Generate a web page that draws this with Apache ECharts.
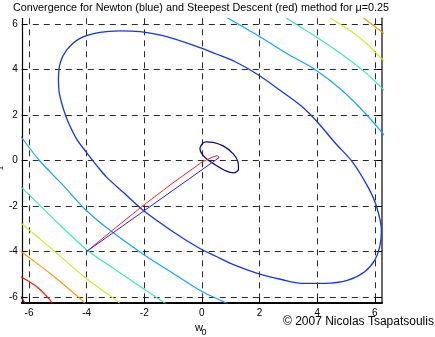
<!DOCTYPE html>
<html>
<head>
<meta charset="utf-8">
<script src="https://cdn.jsdelivr.net/npm/echarts@6/dist/echarts.min.js"></script>
<style>
  html, body { margin: 0; padding: 0; background: #ffffff; }
  #chart { width: 435px; height: 337px; }
</style>
</head>
<body>
<div id="chart"></div>
<script>
// Axis ticks (both axes share the same range and tick set)
const tickValues = [-6, -4, -2, 0, 2, 4, 6];
const axisMin = -6.25;
const axisMax = 6.25;

// Level curves of the error surface J(w0, w1), one array per drawn curve piece
const levelInner = [
  [-0.07, 0.55], [0.02, 0.75], [0.15, 0.82], [0.39, 0.80], [0.74, 0.64], [1.08, 0.30],
  [1.25, -0.05], [1.27, -0.38], [1.12, -0.54], [0.85, -0.47], [0.45, -0.18], [0.12, 0.12],
  [-0.04, 0.38], [-0.07, 0.55]
];
const levelSecond = [
  [-4.98, 3.60], [-4.92, 4.28], [-4.69, 4.86], [-4.23, 5.37], [-3.54, 5.63], [-2.84, 5.70],
  [-2.15, 5.66], [-1.22, 5.44], [-0.07, 4.96], [0.50, 4.68], [1.14, 4.35], [1.95, 3.77],
  [2.76, 3.04], [3.46, 2.38], [4.03, 1.66], [4.61, 0.79], [5.24, -0.09], [5.77, -1.18],
  [6.05, -1.98], [6.23, -3.07], [6.17, -3.80], [6.00, -4.38], [5.65, -4.89], [5.07, -5.26],
  [4.26, -5.40], [3.46, -5.40], [2.76, -5.23], [1.95, -4.97], [1.14, -4.60], [0.50, -4.22],
  [-0.07, -3.87], [-0.99, -3.14], [-2.03, -2.20], [-2.73, -1.40], [-3.30, -0.74],
  [-3.60, -0.30], [-4.00, 0.35], [-4.34, 0.93], [-4.63, 1.66], [-4.80, 2.24], [-4.95, 2.97],
  [-4.98, 3.60]
];
const levelThirdLow = [
  [-6.45, 1.35], [-6.25, 1.00], [-5.64, 0.0], [-4.86, -1.03], [-4.01, -2.20], [-3.19, -3.07],
  [-2.01, -4.14], [-0.99, -4.97], [0.0, -5.76], [0.62, -6.13], [0.90, -6.30]
];
const levelThirdHigh = [
  [0.70, 6.40], [0.91, 6.25], [2.01, 5.44], [3.05, 4.63], [3.95, 3.98], [4.84, 3.11],
  [5.65, 2.10], [6.26, 1.22], [6.40, 1.00]
];
const levelFourthLow = [
  [-6.40, -1.00], [-6.26, -1.18], [-5.20, -2.50], [-4.00, -3.92], [-3.00, -4.80],
  [-2.00, -5.66], [-1.30, -6.25], [-1.10, -6.40]
];
const levelFourthHigh = [
  [2.80, 6.40], [3.05, 6.16], [3.97, 5.43], [4.90, 4.63], [5.71, 3.83], [6.26, 3.17], [6.40, 3.00]
];
const levelFifthLow = [
  [-6.40, -2.62], [-6.25, -2.78], [-5.15, -3.95], [-4.00, -5.20], [-2.93, -6.18], [-2.85, -6.30]
];
const levelFifthHigh = [
  [4.30, 6.40], [4.47, 6.25], [5.13, 5.72], [5.71, 5.14], [6.26, 4.45], [6.40, 4.27]
];
const levelSixthLow = [
  [-6.40, -3.87], [-6.25, -4.02], [-5.20, -5.03], [-4.17, -6.13], [-4.05, -6.30]
];
const levelSixthHigh = [
  [5.50, 6.40], [5.65, 6.23], [6.26, 5.64], [6.40, 5.50]
];
const levelSeventhLow = [
  [-6.40, -5.00], [-6.25, -5.13], [-5.73, -5.55], [-5.27, -6.13], [-5.20, -6.30]
];
const levelEighthLow = [
  [-6.35, -5.85], [-6.10, -6.35]
];

// Weight trajectories starting from (-4, -4)
const newtonPath = [[-4, -4], [0.60, 0.13]];
const steepestPath = [
  [-4, -4], [-3, -2.96], [-2, -1.94], [-1, -0.98], [0, -0.07], [0.35, 0.14], [0.53, 0.22], [0.60, 0.14]
];

const FONT = 'Liberation Sans, Arial, Helvetica, sans-serif';

function curve(data, color, width, smooth) {
  return {
    type: 'line',
    data: data,
    showSymbol: false,
    symbol: 'none',
    smooth: smooth,
    clip: true,
    silent: true,
    animation: false,
    lineStyle: { color: color, width: width },
    z: 3
  };
}

const series = [
  curve(levelEighthLow, '#a00000', 1.2, false),
  curve(levelSeventhLow, '#ff1a00', 1.2, 0.3),
  curve(levelSixthLow, '#ff9900', 1.2, 0.3),
  curve(levelSixthHigh, '#ff9900', 1.2, 0.3),
  curve(levelFifthLow, '#c8f02a', 1.2, 0.3),
  curve(levelFifthHigh, '#c8f02a', 1.2, 0.3),
  curve(levelFourthLow, '#36eeb4', 1.2, 0.3),
  curve(levelFourthHigh, '#36eeb4', 1.2, 0.3),
  curve(levelThirdLow, '#12a4ff', 1.2, 0.3),
  curve(levelThirdHigh, '#12a4ff', 1.2, 0.3),
  curve(levelSecond, '#1535ea', 1.3, 0.3),
  curve(levelInner, '#0c0c88', 1.3, 0.3),
  curve(steepestPath, '#ff2020', 1, false),
  curve(newtonPath, '#2020ff', 1, false)
];

const gridLine = { show: true, lineStyle: { color: '#2a2a2a', width: 1, type: [6, 5] } };

const chart = echarts.init(document.getElementById('chart'), null, { renderer: 'canvas' });
chart.setOption({
  animation: false,
  backgroundColor: '#ffffff',
  grid: { left: 21.8, right: 53, top: 18.3, bottom: 34.3, containLabel: false },
  xAxis: {
    type: 'value',
    min: axisMin,
    max: axisMax,
    axisLine: { show: true, onZero: false, lineStyle: { color: '#000', width: 2 } },
    axisTick: { show: true, inside: true, length: 5, customValues: tickValues, lineStyle: { color: '#000', width: 1 } },
    axisLabel: { show: true, customValues: tickValues, margin: 6, fontFamily: FONT, fontSize: 10, color: '#000' },
    splitLine: gridLine
  },
  yAxis: [
    {
      type: 'value',
      min: axisMin,
      max: axisMax,
      position: 'left',
      axisLine: { show: true, onZero: false, lineStyle: { color: '#000', width: 1.2 } },
      axisTick: { show: true, inside: true, length: 5, customValues: tickValues, lineStyle: { color: '#000', width: 1 } },
      axisLabel: { show: true, customValues: tickValues, margin: 4, fontFamily: FONT, fontSize: 10, color: '#000' },
      splitLine: gridLine
    },
    {
      type: 'value',
      min: axisMin,
      max: axisMax,
      position: 'right',
      axisLine: { show: true, onZero: false, lineStyle: { color: '#444', width: 1.6 } },
      axisTick: { show: true, inside: true, length: 5, customValues: tickValues, lineStyle: { color: '#000', width: 1 } },
      axisLabel: { show: false },
      splitLine: { show: false }
    }
  ],
  series: series,
  graphic: [
    // title
    { type: 'text', x: 201, y: 8,
      style: { text: 'Convergence for Newton (blue) and Steepest Descent (red) method for \u03bc=0.25',
               fontFamily: FONT, fontSize: 10.8, fill: '#000', align: 'center', verticalAlign: 'middle' } },
    // x-axis name w0
    { type: 'text', left: 195, top: 322.5, style: { text: 'w', fontFamily: FONT, fontSize: 11, fill: '#000' } },
    { type: 'text', left: 201.5, top: 328, style: { text: '0', fontFamily: FONT, fontSize: 9, fill: '#000' } },
    // y-axis name w1, set against the left edge of the canvas
    { type: 'text', x: 1.5, y: 178, rotation: Math.PI / 2,
      style: { text: 'w', fontFamily: FONT, fontSize: 11, fill: '#000', align: 'center', verticalAlign: 'bottom' } },
    { type: 'text', x: 5, y: 168, rotation: Math.PI / 2,
      style: { text: '1', fontFamily: FONT, fontSize: 8, fill: '#000', align: 'center', verticalAlign: 'bottom' } },
    // credit line
    { type: 'text', left: 283, top: 315.5, style: { text: '\u00a9 2007 Nicolas Tsapatsoulis', fontFamily: FONT, fontSize: 12, fill: '#000' } }
  ]
});
</script>
</body>
</html>
